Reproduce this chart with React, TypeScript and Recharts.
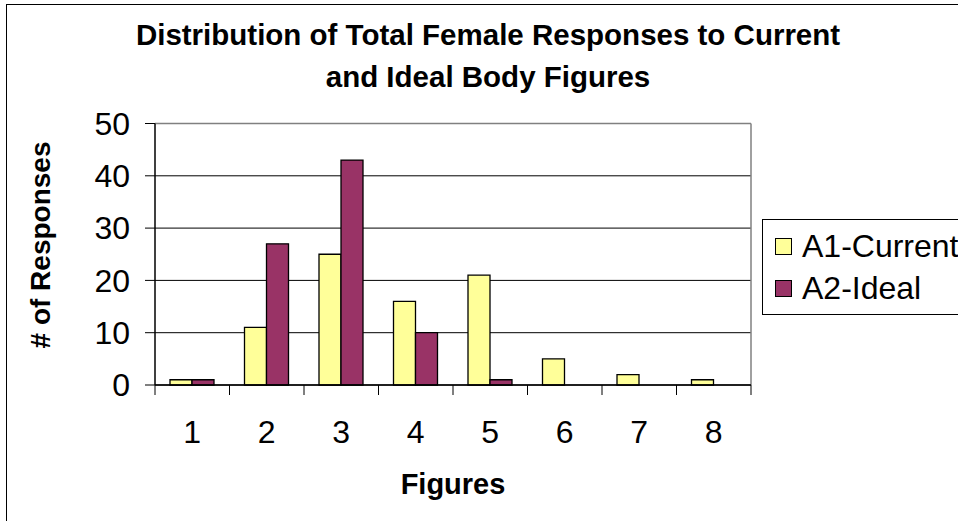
import { Bar, BarChart, CartesianGrid, Label, Legend, XAxis, YAxis } from "recharts";

// Figure number (1 = thinnest ... 8 = heaviest) and response counts per series.
const figures = ["1", "2", "3", "4", "5", "6", "7", "8"];
const currentCounts = [1, 11, 25, 16, 21, 5, 2, 1];
const idealCounts = [1, 27, 43, 10, 1, 0, 0, 0];
const yTicks = [0, 10, 20, 30, 40, 50];

const SERIES = [
  { key: "current", name: "A1-Current", color: "#FFFF99" },
  { key: "ideal", name: "A2-Ideal", color: "#993366" },
];

const FONT = "'Liberation Sans', Arial, Helvetica, sans-serif";

const data = figures.map((f, i) => ({
  figure: f,
  current: currentCounts[i],
  ideal: idealCounts[i],
}));

// x ticks sit on the category boundaries, labels in the middle
function FigureTick(props: any) {
  const { x, y, payload, index, visibleTicksCount } = props;
  const half = payload?.offset ?? 37;
  const last = index === (visibleTicksCount ?? figures.length) - 1;
  return (
    <g>
      <line x1={x - half} x2={x - half} y1={y} y2={y + 10} stroke="#000" strokeWidth={1} />
      {last && <line x1={x + half} x2={x + half} y1={y} y2={y + 10} stroke="#000" strokeWidth={1} />}
      <text x={x} y={y + 47} textAnchor="middle" dominantBaseline="central" fontSize={32} fontFamily={FONT} fill="#000">
        {payload.value}
      </text>
    </g>
  );
}

function LegendBox() {
  return (
    <div
      style={{
        width: 196,
        height: 96,
        boxSizing: "border-box",
        borderTop: "1px solid #000",
        borderBottom: "1px solid #000",
        borderLeft: "1px solid #000",
        fontFamily: FONT,
        fontSize: 32,
        background: "#fff",
        paddingTop: 8,
        overflow: "hidden",
      }}
    >
      {SERIES.map((s) => (
        <div key={s.key} style={{ display: "flex", alignItems: "center", height: 48, marginTop: s.key === "current" ? -6 : -6 }}>
          <span
            style={{
              display: "inline-block",
              flex: "none",
              width: 17,
              height: 17,
              boxSizing: "border-box",
              border: "1px solid #000",
              background: s.color,
              marginLeft: 12,
              marginRight: 10,
            }}
          />
          <span style={{ lineHeight: "48px", whiteSpace: "nowrap" }}>{s.name}</span>
        </div>
      ))}
    </div>
  );
}

export default function App() {
  return (
    <div style={{ position: "absolute", left: 0, top: 0, width: 958, height: 521, overflow: "hidden", background: "#fff" }}>
      {/* outer chart border, runs off the right and bottom edges */}
      <div
        style={{
          position: "absolute",
          left: 6,
          top: 4,
          width: 1200,
          height: 800,
          border: "1.5px solid #000",
        }}
      />
      <div
        style={{
          position: "absolute",
          left: 0,
          top: 14,
          width: 976,
          textAlign: "center",
          fontFamily: FONT,
          fontWeight: "bold",
          fontSize: 29.5,
          lineHeight: "42px",
          whiteSpace: "nowrap",
        }}
      >
        Distribution of Total Female Responses to Current
        <br />
        and Ideal Body Figures
      </div>
      <div style={{ position: "absolute", left: 0, top: 0 }}>
        <BarChart
          width={958}
          height={521}
          data={data}
          margin={{ top: 123.5, right: 207, bottom: 76, left: 0 }}
          barCategoryGap={15}
          barGap={0}
        >
          <CartesianGrid horizontal vertical={false} stroke="#000" strokeWidth={1} />
          <CartesianGrid
            stroke="#808080"
            strokeWidth={1.5}
            horizontalCoordinatesGenerator={({ offset }: any) => [offset.top]}
            verticalCoordinatesGenerator={({ offset }: any) => [offset.left + offset.width]}
          />
          <XAxis
            dataKey="figure"
            height={60}
            tickSize={0}
            tickMargin={0}
            axisLine={{ stroke: "#000", strokeWidth: 1.5 }}
            tickLine={false}
            tick={<FigureTick />}
            interval={0}
          >
            <Label
              content={() => (
                <text x={453} y={484} textAnchor="middle" dominantBaseline="central" fontSize={29} fontWeight="bold" fontFamily={FONT} fill="#000">
                  Figures
                </text>
              )}
            />
          </XAxis>
          <YAxis
            width={155}
            domain={[0, 50]}
            ticks={yTicks}
            interval={0}
            tickSize={10}
            tickMargin={15}
            axisLine={{ stroke: "#000", strokeWidth: 1.5 }}
            tickLine={{ stroke: "#000", strokeWidth: 1 }}
            tick={{ fontSize: 32, fontFamily: FONT, fill: "#000" }}
          >
            <Label
              content={() => (
                <text
                  x={40}
                  y={245}
                  transform="rotate(-90 40 245)"
                  textAnchor="middle"
                  dominantBaseline="central"
                  fontSize={28}
                  fontWeight="bold"
                  fontFamily={FONT}
                  fill="#000"
                >
                  # of Responses
                </text>
              )}
            />
          </YAxis>
          <Legend
            layout="vertical"
            align="center"
            verticalAlign="middle"
            wrapperStyle={{ position: "absolute", left: 762, top: 219, width: 196, height: 96 }}
            content={() => <LegendBox />}
          />
          {SERIES.map((s) => (
            <Bar
              key={s.key}
              dataKey={s.key}
              name={s.name}
              fill={s.color}
              stroke="#000"
              strokeWidth={1.3}
              isAnimationActive={false}
            />
          ))}
        </BarChart>
      </div>
    </div>
  );
}
